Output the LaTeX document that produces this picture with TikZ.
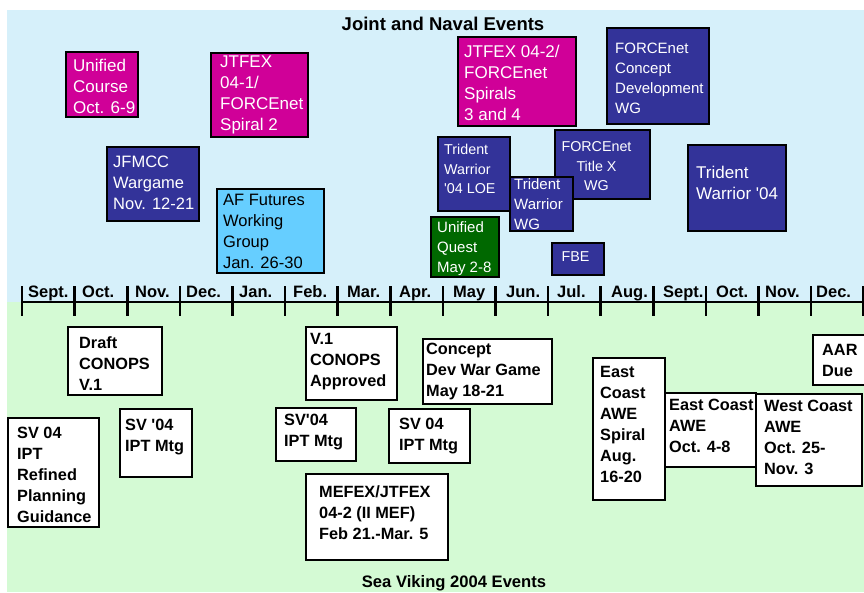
\documentclass[tikz,border=0pt]{standalone}
\usepackage{fontspec}
\setmainfont{Liberation Sans}
\definecolor{skyband}{RGB}{214,240,250}
\definecolor{grassband}{RGB}{212,250,212}
\definecolor{magfill}{RGB}{208,0,152}
\definecolor{navyfill}{RGB}{51,51,153}
\definecolor{cyanfill}{RGB}{102,206,255}
\definecolor{greenfill}{RGB}{0,104,0}

% straight apostrophe
\newcommand\sq{\textquotesingle}

% box with left-aligned text: [text opts]{name}{kind}{x1}{y1}{x2}{y2}{text shift}{text}
\newcommand\evt[9][]{%
  \node[#3, minimum width={#6-#4}, minimum height={#7-#5}, anchor=north west] (#2) at (#4,#5) {};
  \node[#3txt, #1, anchor=west, shift={(#8)}] (#2-t) at (#2.west) {#9};
}
% box with centred text
\newcommand\evc[9][]{%
  \node[#3, minimum width={#6-#4}, minimum height={#7-#5}, anchor=north west] (#2) at (#4,#5) {};
  \node[#3txt, #1, align=center, anchor=center, shift={(#8)}] (#2-t) at (#2.center) {#9};
}

\begin{document}
\begin{tikzpicture}[x=1pt,y=-1pt,
  evbox/.style={draw=black, line width=2.6pt, inner sep=0pt, outer sep=0pt, rectangle},
  mag/.style={evbox, fill=magfill},
  navy/.style={evbox, fill=navyfill},
  cyan/.style={evbox, fill=cyanfill},
  grn/.style={evbox, fill=greenfill},
  sv/.style={evbox, fill=white},
  lbl/.style={inner sep=0pt, align=left},
  magtxt/.style={lbl, text=white, f17},
  navytxt/.style={lbl, text=white, f17},
  grntxt/.style={lbl, text=white, f15},
  cyantxt/.style={lbl, text=black, f16},
  svtxt/.style={lbl, text=black, bf16},
  f17/.style={font=\fontsize{17}{21}\selectfont},
  f16/.style={font=\fontsize{16.5}{21}\selectfont},
  f15/.style={font=\fontsize{15}{20}\selectfont},
  f14/.style={font=\fontsize{14.3}{19.5}\selectfont},
  bf16/.style={font=\bfseries\fontsize{16.3}{21}\selectfont},
  month/.style={inner sep=0pt, font=\bfseries\fontsize{16.5}{20}\selectfont},
  axisline/.style={line width=2.6pt, black},
  tickmark/.style={line width=2.6pt, black},
  heading/.style={inner sep=0pt, font=\bfseries\fontsize{18.5}{22}\selectfont},
  subheading/.style={inner sep=0pt, font=\bfseries\fontsize{16.6}{20}\selectfont}
]
\useasboundingbox (0,0) rectangle (864,592);
\fill[white] (0,0) rectangle (864,592);

% coloured bands
\fill[skyband] (7,10) rectangle (864,302);
\fill[grassband] (7,302) rectangle (864,592);

\node[heading, anchor=base] (jointtitle) at (443,30) {Joint and Naval Events};
\node[subheading, anchor=base] (svtitle) at (454,587) {Sea Viking 2004 Events};

% time axis
\draw[axisline] (22,302) -- (866,302);
\foreach \k in {0,...,16}
  \draw[tickmark] ({22+52.6*\k},286) -- ({22+52.6*\k},316);
\foreach \m/\x [count=\i] in {Sept./28, Oct./82, Nov./135, Dec./186, Jan./239,
    Feb./293, Mar./347, Apr./399, May/453, Jun./506, Jul./557, Aug./611,
    Sept./663, Oct./716, Nov./765, Dec./816}
  \node[month, anchor=base west] (mon\i) at (\x,297) {\m};

% joint and naval events
\evt{unified}{mag}{66}{52}{138}{117}{7,1.5}{Unified\\Course\\Oct. 6-9}
\evt{jtfexa}{mag}{211}{53}{308}{137}{9,0}{JTFEX\\04-1/\\FORCEnet\\Spiral 2}
\evt[f16]{jfmcc}{navy}{107}{147}{199}{221}{6,-1.5}{JFMCC\\Wargame\\Nov. 12-21}
\evt{affutures}{cyan}{217}{189}{324}{273}{6,0}{AF Futures\\Working\\Group\\Jan. 26-30}
\evt{jtfexb}{mag}{458}{37}{576}{126}{6,1.5}{JTFEX 04-2/\\FORCEnet\\Spirals\\3 and 4}
\evt[f15]{fncd}{navy}{607}{28}{709}{124}{8,2}{FORCEnet\\Concept\\Development\\WG}
\evt[f14]{twloe}{navy}{438}{137}{510}{211}{6,-5}{Trident\\Warrior\\\sq04 LOE}
\evc[f14]{titlex}{navy}{555}{130}{650}{199}{-6,2}{FORCEnet\\Title X\\WG}
\evt[f15]{twwg}{navy}{510}{177}{573}{231}{4,0}{Trident\\Warrior\\WG}
\evt{tw}{navy}{688}{145}{786}{231}{8,-5}{Trident\\Warrior \sq04}
\evt{uquest}{grn}{431}{217}{499}{277}{6,2}{Unified\\Quest\\May 2-8}
\evc[f14]{fbe}{navy}{552}{243}{604}{275}{-2.5,-2}{FBE}

% Sea Viking events
\evt{svrpg}{sv}{8}{418}{99}{527}{9,2}{SV 04\\IPT\\Refined\\Planning\\Guidance}
\evt{draft}{sv}{68}{327}{162}{395}{11,3}{Draft\\CONOPS\\V.1}
\evt{svipta}{sv}{120}{409}{192}{477}{5,-6}{SV \sq04\\IPT Mtg}
\evt{approved}{sv}{306}{327}{397}{400}{4,-2}{V.1\\CONOPS\\Approved}
\evt{sviptb}{sv}{276}{408}{356}{461}{8,-2}{SV\sq04\\IPT Mtg}
\evt{mefex}{sv}{306}{474}{448}{560}{13,-4}{MEFEX/JTFEX\\04-2 (II MEF)\\Feb 21.-Mar. 5}
\evt{sviptc}{sv}{389}{409}{470}{463}{10,0}{SV 04\\IPT Mtg}
\evt{concept}{sv}{423}{339}{552}{404}{3,0}{Concept\\Dev War Game\\May 18-21}
\evt{ecspiral}{sv}{593}{358}{665}{500}{7,-5}{East\\Coast\\AWE\\Spiral\\Aug.\\16-20}
\evt{ecawe}{sv}{665}{393}{756}{467}{4,-4}{East Coast\\AWE\\Oct. 4-8}
\evt{wcawe}{sv}{756}{394}{862}{486}{8,-2.5}{West Coast\\AWE\\Oct. 25-\\Nov. 3}
\evt{aar}{sv}{813}{335}{880}{385}{9,0}{AAR\\Due}
\end{tikzpicture}
\end{document}
